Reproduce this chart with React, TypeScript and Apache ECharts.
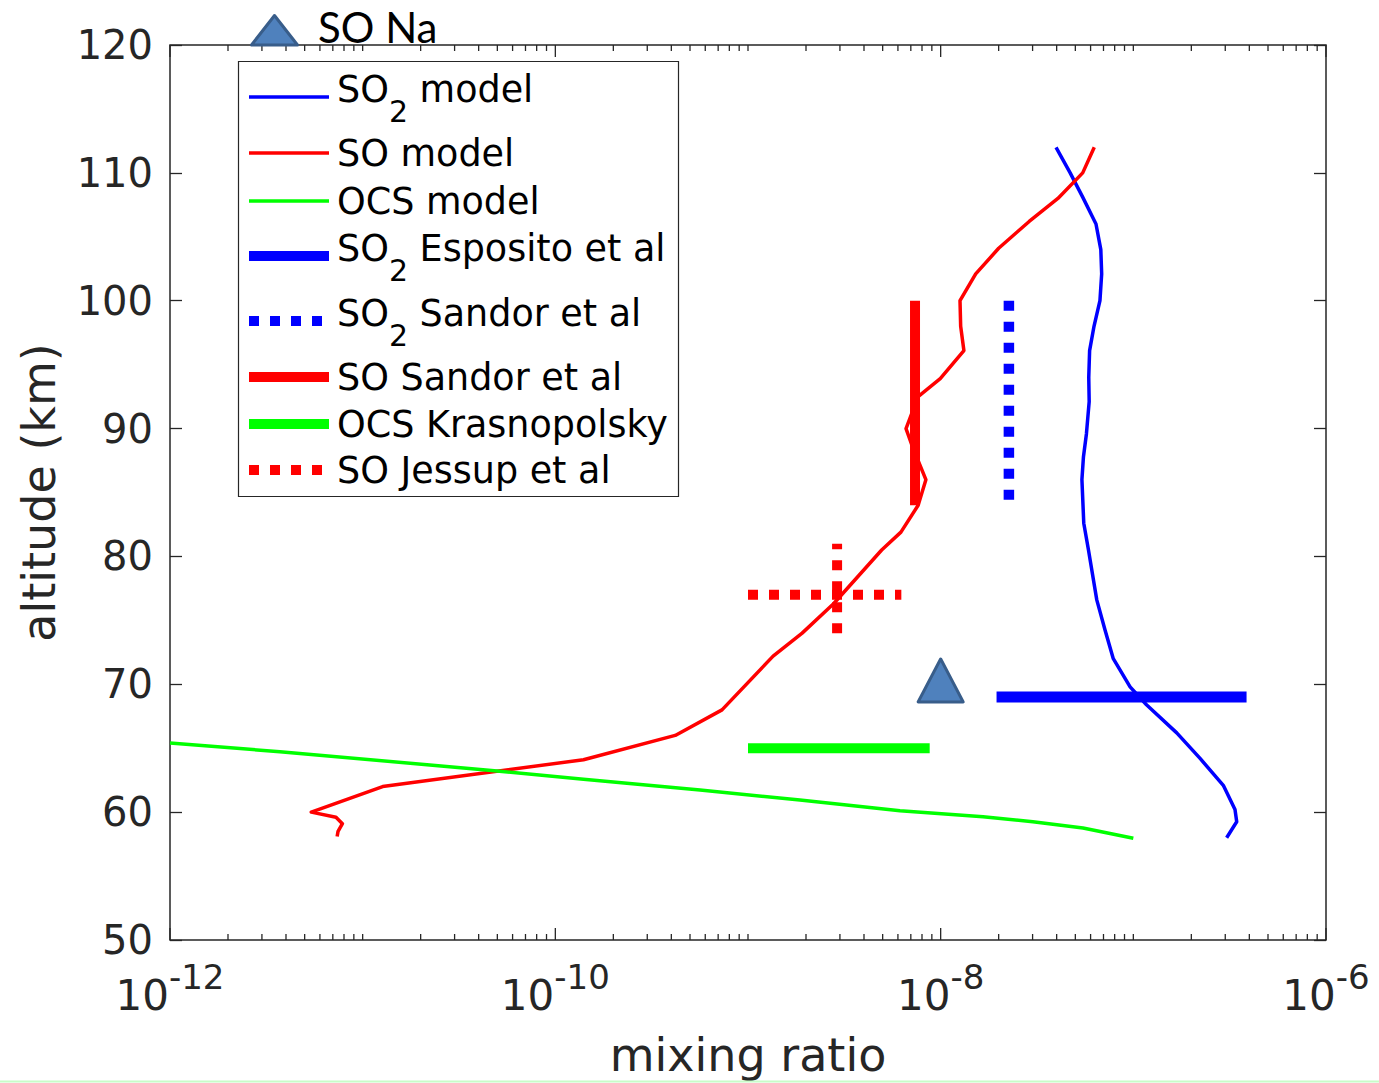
import React, { useEffect, useRef } from 'react';
import * as echarts from 'echarts';

// ---------- data (mixing ratio vs altitude in km) ----------
const SO2_MODEL_MR = [3.97e-8, 4.7e-8, 5.46e-8, 6.40e-8, 6.78e-8, 6.85e-8, 6.71e-8, 6.25e-8, 5.93e-8, 5.87e-8, 5.90e-8, 5.71e-8, 5.51e-8, 5.41e-8, 5.53e-8, 5.85e-8, 6.46e-8, 7.13e-8, 7.87e-8, 9.62e-8, 1.17e-7, 1.68e-7, 2.22e-7, 2.93e-7, 3.37e-7, 3.44e-7, 3.05e-7];
const SO2_MODEL_ALT = [112, 110, 108.1, 106, 104, 102.1, 100, 98, 96.1, 94, 92.1, 89.6, 87.8, 86, 82.6, 80.5, 76.6, 74.25, 72, 69.8, 68.4, 66.2, 64.2, 62.1, 60.2, 59.25, 58];

const SO_MODEL_MR = [6.27e-8, 5.46e-8, 4.06e-8, 2.88e-8, 2.0e-8, 1.52e-8, 1.26e-8, 1.27e-8, 1.32e-8, 9.95e-9, 7.64e-9, 6.61e-9, 7.13e-9, 8.38e-9, 7.64e-9, 6.22e-9, 4.94e-9, 2.78e-9, 1.91e-9, 1.35e-9, 7.33e-10, 4.19e-10, 1.40e-10, 1.27e-11, 5.41e-12, 7.27e-12, 7.85e-12, 7.45e-12, 7.37e-12];
const SO_MODEL_ALT = [112, 110, 108, 106.2, 104.1, 102.1, 100, 98, 96.1, 93.9, 92.5, 90, 88.6, 86, 84, 81.9, 80.5, 76.3, 74, 72.2, 68, 66, 64.1, 62, 60, 59.6, 59.1, 58.5, 58.1];

const OCS_MODEL_MR = [1e-12, 3.72e-12, 4.82e-11, 1.40e-10, 5.64e-10, 1.86e-9, 6.15e-9, 1.66e-8, 3.01e-8, 5.48e-8, 1.0e-7];
const OCS_MODEL_ALT = [65.4, 64.73, 63.24, 62.57, 61.73, 60.95, 60.11, 59.64, 59.25, 58.76, 57.96];

const SO2_ESPOSITO_MR = [1.95e-8, 3.87e-7];
const SO2_ESPOSITO_ALT = [69, 69];
const SO2_SANDOR_MR = [2.26e-8, 2.26e-8];
const SO2_SANDOR_ALT = [100, 84];
const SO_SANDOR_MR = [7.36e-9, 7.36e-9];
const SO_SANDOR_ALT = [100, 84];
const OCS_KRASNO_MR = [1.0e-9, 8.77e-9];
const OCS_KRASNO_ALT = [65, 65];
const SO_JESSUP_H_MR = [1.0e-9, 6.25e-9];
const SO_JESSUP_H_ALT = [77, 77];
const SO_JESSUP_V_MR = [2.9e-9, 2.9e-9];
const SO_JESSUP_V_ALT = [74, 81];
const SO_NA_MR = [1e-8];
const SO_NA_ALT = [70.3];

// ---------- axes ----------
const X_MIN = 1e-12;
const X_MAX = 1e-6;
const Y_MIN = 50;
const Y_MAX = 120;
const Y_STEP = 10;
const X_LABEL_EXPONENTS = [-12, -10, -8, -6];
const X_TICK_DECADES = [-12, -11, -10, -9, -8, -7];
const X_TICK_STEPS = [1, 2, 3, 4, 5, 6, 7, 8, 9];

const LEGEND_LABELS = ['SO2 model', 'SO model', 'OCS model', 'SO2 Esposito et al', 'SO2 Sandor et al', 'SO Sandor et al', 'OCS Krasnopolsky', 'SO Jessup et al'];
const X_NAME = 'mixing ratio';
const Y_NAME = 'altitude (km)';
const ANNOTATION = 'SO Na';

// ---------- styles / layout ----------
const AXIS_COLOR = '#262626';
const FONT = 'DejaVu Sans';
const BLUE = '#0000ff';
const RED = '#ff0000';
const GREEN = '#00ff00';
const DOT: number[] = [10, 11];
const LEGEND_STYLE = [
  { color: BLUE, width: 3.5, dash: null as number[] | null },
  { color: RED, width: 3.5, dash: null },
  { color: GREEN, width: 3.5, dash: null },
  { color: BLUE, width: 10, dash: null },
  { color: BLUE, width: 10, dash: DOT },
  { color: RED, width: 10, dash: null },
  { color: GREEN, width: 10, dash: null },
  { color: RED, width: 10, dash: DOT },
];
const LEGEND_ROW_Y = [97, 153, 201, 256, 321, 377, 424, 470];

const pairs = (xs: number[], ys: number[]) => xs.map((x, i) => [x, ys[i]]);

function lineSeries(name: string, xs: number[], ys: number[], color: string, width: number, dash: number[] | null, z = 2) {
  return {
    type: 'line',
    name,
    data: pairs(xs, ys),
    symbol: 'none',
    showSymbol: false,
    silent: true,
    z,
    lineStyle: { color, width, type: dash ? dash : 'solid', cap: 'butt', join: 'round' },
    emphasis: { disabled: true },
  };
}

function richLabel(label: string) {
  if (label.startsWith('SO2')) {
    return `{a|SO}{s|2}{a|${label.slice(3)}}`;
  }
  return label;
}

export default function App() {
  const ref = useRef<HTMLDivElement>(null);

  useEffect(() => {
    if (!ref.current) return;
    const chart = echarts.init(ref.current, undefined, { renderer: 'svg' });

    const tickData: number[][] = [];
    X_TICK_DECADES.forEach((d) => {
      X_TICK_STEPS.forEach((s) => {
        const major = s === 1 && X_LABEL_EXPONENTS.includes(d) ? 1 : 0;
        tickData.push([s * Math.pow(10, d), Y_MIN, major]);
      });
    });
    tickData.push([X_MAX, Y_MIN, 1]);

    const LF = 36.5;
    const SF = 30;
    const legendGraphics: any[] = [
      {
        type: 'rect',
        shape: { x: 238.5, y: 61.5, width: 440, height: 435 },
        style: { fill: '#ffffff', stroke: AXIS_COLOR, lineWidth: 1.2 },
        z: 100,
      },
    ];
    LEGEND_LABELS.forEach((label, i) => {
      const st = LEGEND_STYLE[i];
      const y = LEGEND_ROW_Y[i];
      legendGraphics.push({
        type: 'line',
        shape: { x1: 249, y1: y, x2: st.dash ? 323 : 329, y2: y },
        style: { stroke: st.color, lineWidth: st.width, lineDash: st.dash || undefined, lineCap: 'butt' },
        z: 101,
      });
      const isSub = label.startsWith('SO2');
      legendGraphics.push({
        type: 'text',
        x: 337,
        y: isSub ? y + 1.5 : y,
        style: {
          text: richLabel(label),
          fontSize: LF,
          fontFamily: FONT,
          fill: '#000000',
          verticalAlign: 'middle',
          align: 'left',
          rich: {
            a: { fontSize: LF, lineHeight: LF, padding: [0, 0, 19, 0], fontFamily: FONT, fill: '#000000', color: '#000000' },
            s: { fontSize: SF, lineHeight: SF, padding: [25.5, 0, 0, 0], fontFamily: FONT, fill: '#000000', color: '#000000' },
          },
        },
        z: 101,
      });
    });

    const option: any = {
      animation: false,
      backgroundColor: '#ffffff',
      textStyle: { fontFamily: FONT },
      grid: {
        left: 170,
        right: 53,
        top: 45,
        bottom: 143,
        show: true,
        borderColor: AXIS_COLOR,
        borderWidth: 1.5,
        backgroundColor: '#ffffff',
        containLabel: false,
        outerBoundsMode: 'none',
      },
      xAxis: [
        {
          type: 'log',
          logBase: 10,
          min: X_MIN,
          max: X_MAX,
          position: 'bottom',
          axisLine: { show: false },
          axisTick: { show: false },
          minorTick: { show: false },
          splitLine: { show: false },
          axisLabel: {
            margin: 27,
            color: AXIS_COLOR,
            formatter: (v: number) => {
              const e = Math.round(Math.log10(v));
              if (!X_LABEL_EXPONENTS.includes(e)) return '';
              return `{b|10}{s|${e}}`;
            },
            rich: {
              b: { fontSize: 42, lineHeight: 42, padding: [14, 0, 0, 0], color: AXIS_COLOR, fontFamily: FONT },
              s: { fontSize: 34, lineHeight: 34, padding: [0, 0, 22, 0], color: AXIS_COLOR, fontFamily: FONT },
            },
          },
          name: X_NAME,
          nameLocation: 'middle',
          nameGap: 92,
          nameTextStyle: { fontSize: 46, lineHeight: 46, color: AXIS_COLOR, fontFamily: FONT },
        },
      ],
      yAxis: [
        {
          type: 'value',
          min: Y_MIN,
          max: Y_MAX,
          interval: Y_STEP,
          position: 'left',
          axisLine: { show: false },
          axisTick: { show: true, inside: true, length: 12, lineStyle: { color: AXIS_COLOR, width: 1.3 } },
          splitLine: { show: false },
          axisLabel: { fontSize: 40, color: AXIS_COLOR, margin: 17, fontFamily: FONT },
          name: Y_NAME,
          nameLocation: 'middle',
          nameRotate: 90,
          nameGap: 108,
          nameTextStyle: { fontSize: 46, color: AXIS_COLOR, fontFamily: FONT },
        },
        {
          type: 'value',
          min: Y_MIN,
          max: Y_MAX,
          interval: Y_STEP,
          position: 'right',
          axisLine: { show: false },
          axisTick: { show: true, inside: true, length: 12, lineStyle: { color: AXIS_COLOR, width: 1.3 } },
          splitLine: { show: false },
          axisLabel: { show: false },
        },
      ],
      series: [
        {
          type: 'custom',
          name: 'xticks',
          silent: true,
          clip: false,
          z: 1,
          encode: { x: 0, y: 1 },
          data: tickData,
          renderItem: (params: any, api: any) => {
            const v = api.value(0);
            const major = api.value(2) === 1;
            const pb = api.coord([v, Y_MIN]);
            const pt = api.coord([v, Y_MAX]);
            const L = major ? 12 : 6;
            const st = { stroke: AXIS_COLOR, lineWidth: 1.3 };
            return {
              type: 'group',
              children: [
                { type: 'line', shape: { x1: pb[0], y1: pb[1], x2: pb[0], y2: pb[1] - L }, style: st },
                { type: 'line', shape: { x1: pt[0], y1: pt[1], x2: pt[0], y2: pt[1] + L }, style: st },
              ],
            };
          },
        },
        lineSeries('SO2 model', SO2_MODEL_MR, SO2_MODEL_ALT, BLUE, 3.5, null),
        lineSeries('SO model', SO_MODEL_MR, SO_MODEL_ALT, RED, 3.5, null),
        lineSeries('OCS model', OCS_MODEL_MR, OCS_MODEL_ALT, GREEN, 3.5, null),
        lineSeries('SO2 Esposito et al', SO2_ESPOSITO_MR, SO2_ESPOSITO_ALT, BLUE, 11, null),
        lineSeries('SO2 Sandor et al', SO2_SANDOR_MR, SO2_SANDOR_ALT, BLUE, 10.5, DOT),
        lineSeries('SO Sandor et al', SO_SANDOR_MR, SO_SANDOR_ALT, RED, 10, null),
        lineSeries('OCS Krasnopolsky', OCS_KRASNO_MR, OCS_KRASNO_ALT, GREEN, 10, null),
        lineSeries('SO Jessup et al', SO_JESSUP_H_MR, SO_JESSUP_H_ALT, RED, 10, DOT),
        lineSeries('SO Jessup et al (alt)', SO_JESSUP_V_MR, SO_JESSUP_V_ALT, RED, 10, DOT),
        {
          type: 'scatter',
          name: ANNOTATION,
          data: pairs(SO_NA_MR, SO_NA_ALT),
          symbol: 'triangle',
          symbolSize: [45, 43],
          silent: true,
          z: 5,
          itemStyle: { color: '#4F81BD', borderColor: '#385D8A', borderWidth: 3, borderJoin: 'round', opacity: 1 },
        },
      ],
      graphic: [
        ...legendGraphics,
        {
          type: 'polygon',
          shape: { points: [[274.5, 15.5], [251.5, 45], [297.5, 45]] },
          style: { fill: '#4F81BD', stroke: '#385D8A', lineWidth: 3, lineJoin: 'round' },
          z: 102,
        },
        {
          type: 'text',
          x: 318,
          y: 27,
          style: { text: ANNOTATION, fontSize: 42, fontFamily: 'Lato', fill: '#000000', verticalAlign: 'middle', align: 'left' },
          z: 102,
        },
        {
          type: 'line',
          shape: { x1: 0, y1: 1081.5, x2: 1379, y2: 1081.5 },
          style: { stroke: '#c8fcc8', lineWidth: 2 },
          z: 102,
        },
      ],
    };

    chart.setOption(option);
    return () => chart.dispose();
  }, []);

  return <div ref={ref} style={{ position: 'absolute', left: 0, top: 0, width: 1379, height: 1083 }} />;
}
